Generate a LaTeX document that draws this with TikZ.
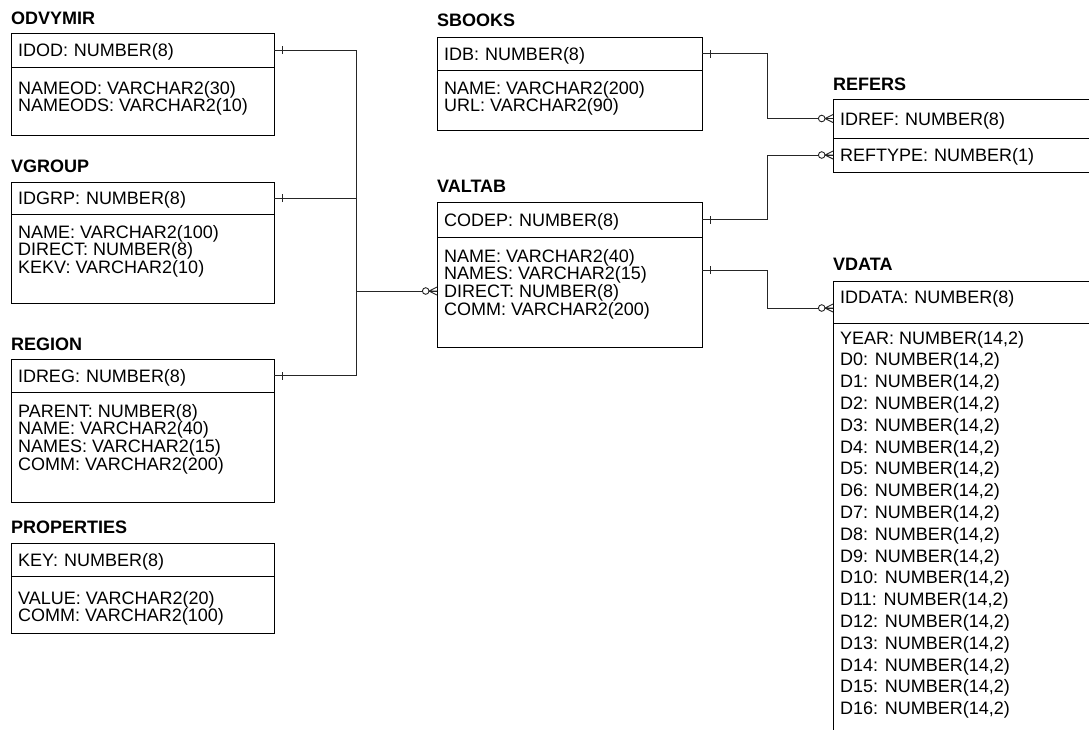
\documentclass[tikz,border=0pt]{standalone}
\usepackage{fontspec}
\setmainfont{Liberation Sans}
\usetikzlibrary{positioning,decorations.markings}

\tikzset{
  ent/.style={draw, anchor=north west, outer sep=0pt, inner xsep=7pt, inner ysep=0pt,
    align=left, text height=13pt, text depth=0pt, line width=0.9pt,
    font=\fontsize{18}{17.7}\selectfont},
  entbody/.style={draw, anchor=north west, outer sep=0pt, inner sep=0pt, line width=0.9pt},
  fields/.style={anchor=north west, inner sep=0pt, align=left,
    font=\fontsize{18}{17.7}\selectfont},
  fieldrow/.style={anchor=base west, inner sep=0pt, font=\fontsize{18}{17.7}\selectfont},
  ttl/.style={anchor=base west, inner sep=0pt, font=\bfseries\fontsize{18}{18}\selectfont},
  conn/.style={draw=black!85, line width=0.9pt},
  one/.style={postaction={decorate, decoration={markings,
    mark=at position 8pt with {\draw[black!85, line width=0.9pt] (0,-4pt) -- (0,4pt);}}}},
  many/.style={postaction={decorate, decoration={markings,
    mark=at position 1 with {\draw[black!85, line width=0.9pt] (-8pt,0) -- (0,4pt) (-8pt,0) -- (0,-4pt) (-8pt,0) -- (0,0);
      \draw[black!85, line width=0.9pt, fill=white] (-11.3pt,0) circle (3.3pt);}}}}
}

\begin{document}
\begin{tikzpicture}[x=1pt, y=-1pt]
  \useasboundingbox (0,0) rectangle (1089,729);
  \clip (0,0) rectangle (1089,729);

  % left column
  \node[ent, text width=249pt, minimum height=34pt] (odvk) at (11,33) {IDOD: NUMBER(8)};
  \node[entbody, minimum width=263pt, minimum height=68pt] (odvb) at (odvk.south west) {};
  \node[fields] (odvf) at ([shift={(7,14)}]odvb.north west) {NAMEOD: VARCHAR2(30)\\NAMEODS: VARCHAR2(10)};
  \node[ttl] (odvt) at ([yshift=9pt]odvk.north west) {ODVYMIR};

  \node[ent, text width=249pt, minimum height=32pt] (vgrk) at (11,182) {IDGRP: NUMBER(8)};
  \node[entbody, minimum width=263pt, minimum height=89pt] (vgrb) at (vgrk.south west) {};
  \node[fields] (vgrf) at ([shift={(7,11)}]vgrb.north west) {NAME: VARCHAR2(100)\\DIRECT: NUMBER(8)\\KEKV: VARCHAR2(10)};
  \node[ttl] (vgrt) at ([yshift=10pt]vgrk.north west) {VGROUP};

  \node[ent, text width=249pt, minimum height=33pt] (regk) at (11,359) {IDREG: NUMBER(8)};
  \node[entbody, minimum width=263pt, minimum height=110pt] (regb) at (regk.south west) {};
  \node[fields] (regf) at ([shift={(7,12)}]regb.north west) {PARENT: NUMBER(8)\\NAME: VARCHAR2(40)\\NAMES: VARCHAR2(15)\\COMM: VARCHAR2(200)};
  \node[ttl] (regt) at ([yshift=9pt]regk.north west) {REGION};

  \node[ent, text width=249pt, minimum height=33pt] (prpk) at (11,543) {KEY: NUMBER(8)};
  \node[entbody, minimum width=263pt, minimum height=57pt] (prpb) at (prpk.south west) {};
  \node[fields] (prpf) at ([shift={(7,15)}]prpb.north west) {VALUE: VARCHAR2(20)\\COMM: VARCHAR2(100)};
  \node[ttl] (prpt) at ([yshift=10pt]prpk.north west) {PROPERTIES};

  % middle column
  \node[ent, text width=251pt, minimum height=33pt] (sbok) at (437,37) {IDB: NUMBER(8)};
  \node[entbody, minimum width=265pt, minimum height=60pt] (sbob) at (sbok.south west) {};
  \node[fields] (sbof) at ([shift={(7,11)}]sbob.north west) {NAME: VARCHAR2(200)\\URL: VARCHAR2(90)};
  \node[ttl] (sbot) at ([yshift=11pt]sbok.north west) {SBOOKS};

  \node[ent, text width=251pt, minimum height=35pt] (valk) at (437,202) {CODEP: NUMBER(8)};
  \node[entbody, minimum width=265pt, minimum height=110pt] (valb) at (valk.south west) {};
  \node[fields] (valf) at ([shift={(7,12)}]valb.north west) {NAME: VARCHAR2(40)\\NAMES: VARCHAR2(15)\\DIRECT: NUMBER(8)\\COMM: VARCHAR2(200)};
  \node[ttl] (valt) at ([yshift=10pt]valk.north west) {VALTAB};

  % right column
  \node[ent, text width=256pt, minimum height=39pt] (refk) at (833,99) {IDREF: NUMBER(8)};
  \node[ent, text width=256pt, minimum height=34pt] (refb) at (refk.south west) {REFTYPE: NUMBER(1)};
  \node[ttl] (reft) at ([yshift=9pt]refk.north west) {REFERS};

  \node[ent, text width=256pt, minimum height=42pt, text depth=11pt] (vdak) at (833,281) {IDDATA: NUMBER(8)};
  \node[entbody, minimum width=270pt, minimum height=460pt] (vdab) at (vdak.south west) {};
  \node[fieldrow] (vyear) at ([shift={(7,21)}]vdab.north west) {YEAR: NUMBER(14,2)};
  \foreach \i in {0,...,16}
    \node[fieldrow] (vd\i) at ([shift={(7,{21+21.8*(\i+1)})}]vdab.north west) {D\i: NUMBER(14,2)};
  \node[ttl] (vdat) at ([yshift=11pt]vdak.north west) {VDATA};

  % relations
  \coordinate (jn) at (356,291);
  \draw[conn, one] (odvk.east) -| (jn);
  \draw[conn, one] (vgrk.east) -| (jn);
  \draw[conn, one] (regk.east) -| (jn);
  \draw[conn, many] (jn) -- (valb.west |- jn);

  \coordinate (valn) at ([yshift=-33pt]valb.north east);
  \coordinate (vdal) at ([yshift=-6pt]vdak.west);
  \draw[conn, one, many] (sbok.east) -- ++(65,0) |- (refk.west);
  \draw[conn, one, many] (valk.east) -- ++(65,0) |- (refb.west);
  \draw[conn, one, many] (valn) -- ++(65,0) |- (vdal);
\end{tikzpicture}
\end{document}
